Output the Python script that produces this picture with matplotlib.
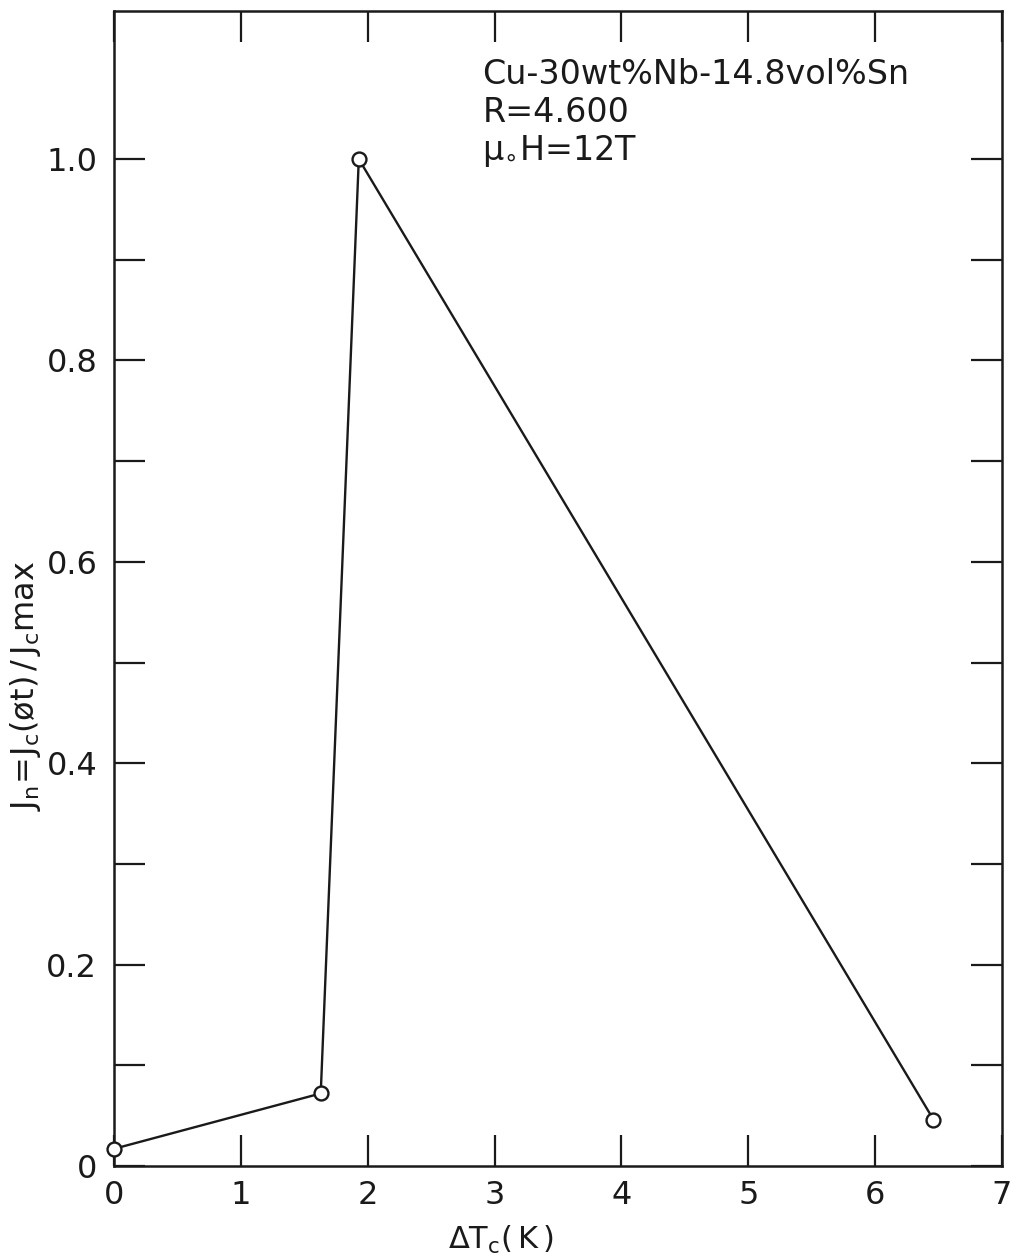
import matplotlib.pyplot as plt
from matplotlib.ticker import FixedLocator

# data
delta_tc = [0.0, 1.63, 1.93, 6.46]
jn = [0.017, 0.072, 1.0, 0.046]

x_ticks = [0, 1, 2, 3, 4, 5, 6, 7]
y_major = [0, 0.2, 0.4, 0.6, 0.8, 1.0]
y_minor = [0.1, 0.3, 0.5, 0.7, 0.9]
y_labels = ["0", "0.2", "0.4", "0.6", "0.8", "1.0"]

note_lines = ["Cu-30wt%Nb-14.8vol%Sn", "R=4.600", r"$\mathregular{\mu_{\circ}}$H=12T"]

plt.rcParams["font.family"] = "DejaVu Sans"
ink = "#1a1a1a"

fig = plt.figure(figsize=(10.12, 12.56), dpi=100)
ax = fig.add_axes([0.1126, 0.0717, 0.8775, 0.9195])

ax.plot(delta_tc, jn, color=ink, lw=1.7, marker="o", ms=10,
        mfc="white", mec=ink, mew=1.7, clip_on=False, zorder=3)

ax.set_xlim(0, 7)
ax.set_ylim(0, 1.147)

ax.set_xticks(x_ticks)
ax.set_yticks(y_major)
ax.set_yticklabels(y_labels)
ax.yaxis.set_minor_locator(FixedLocator(y_minor))

ax.tick_params(which="both", direction="in", top=True, right=True,
               length=22, width=1.6, labelsize=23, color=ink, labelcolor=ink)
ax.tick_params(axis="y", pad=12)
ax.tick_params(axis="x", pad=10)
for s in ax.spines.values():
    s.set_linewidth(1.8)
    s.set_color(ink)

ylab = r"$\mathregular{J_n\!=\!J_c(ø t)\,/\,J_c max}$"
ax.set_ylabel(ylab, fontsize=23, color=ink)
ax.yaxis.set_label_coords(-0.08, 0.416)
ax.set_xlabel(r"$\mathregular{\Delta T_c(\,K\,)}$", fontsize=22, color=ink)
ax.xaxis.set_label_coords(0.436, -0.05)

for i, line in enumerate(note_lines):
    ax.text(0.415, 0.945 - i * 0.033, line, transform=ax.transAxes,
            fontsize=24, color=ink, va="center", ha="left")

fig.savefig("out.png", dpi=100)
